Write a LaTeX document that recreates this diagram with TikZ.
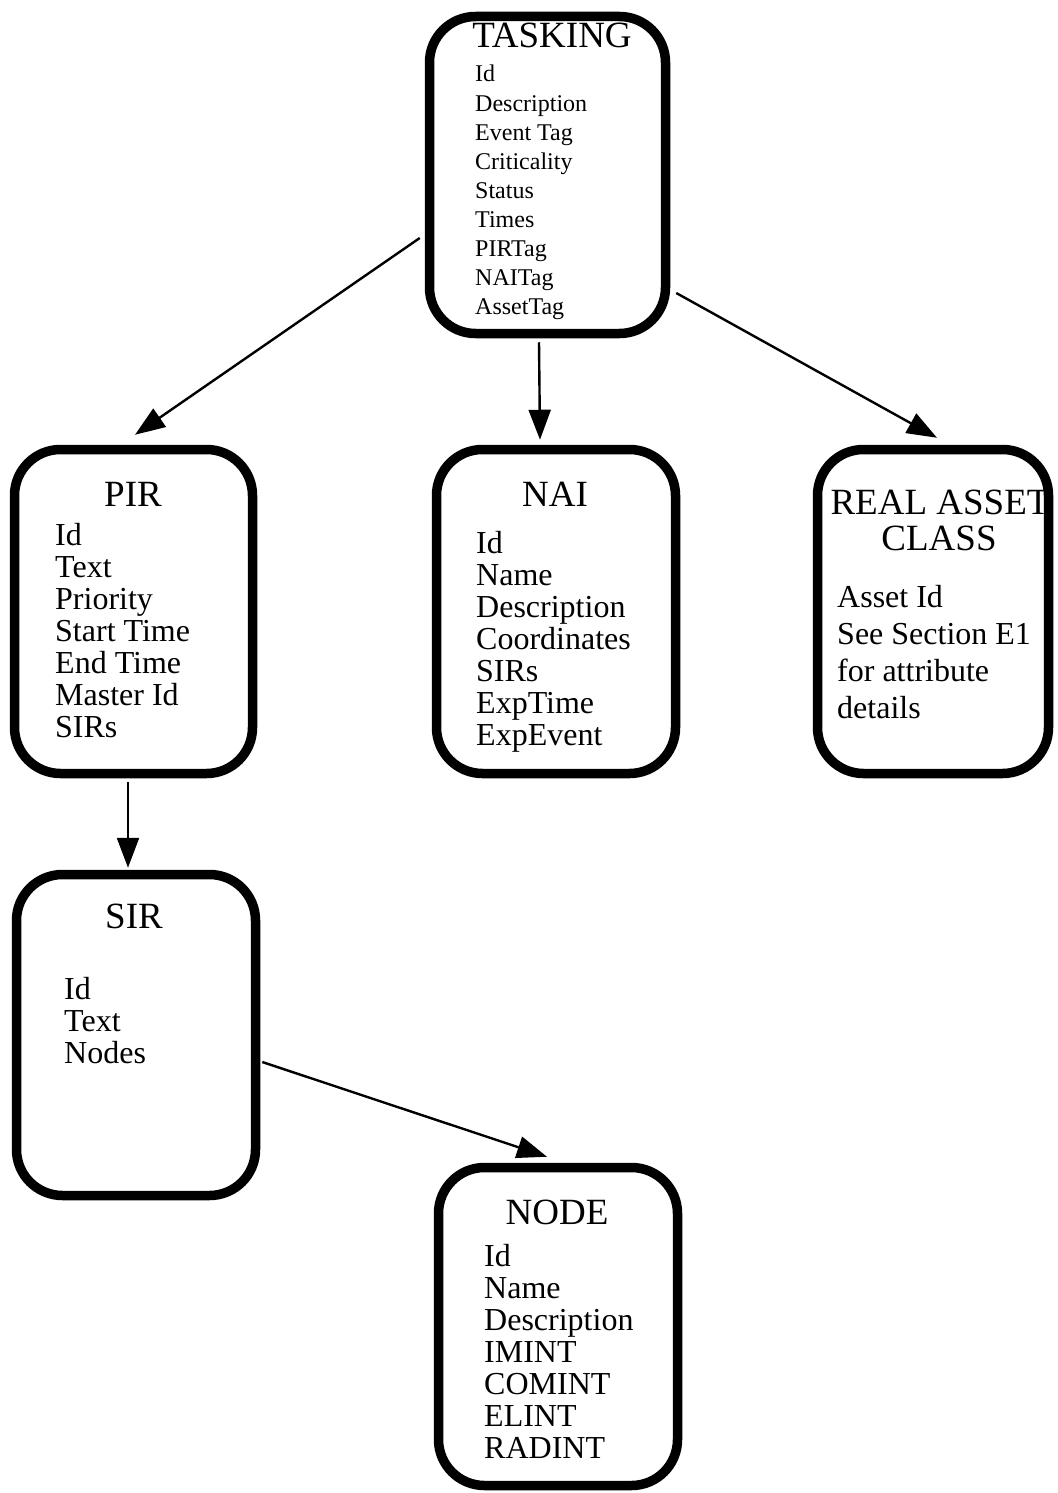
\documentclass[tikz,border=0pt]{standalone}
\usepackage{fontspec}
\setmainfont{Liberation Serif}
\usetikzlibrary{arrows.meta}

\begin{document}
\begin{tikzpicture}
[
    x=1pt, y=-1pt,
    entity/.style={draw, line width=9.5pt, rounded corners=46pt, inner sep=0pt},
    head/.style={font=\fontsize{37}{38}\selectfont, anchor=base, inner sep=0pt},
    attr/.style={font=\fontsize{32}{32}\selectfont, anchor=base west, inner sep=0pt},
    attrsmall/.style={font=\fontsize{24}{29}\selectfont, anchor=base west, inner sep=0pt},
    link/.style={line width=2.4pt, -{Triangle[length=30pt,width=22pt]}},
]
\useasboundingbox (0,0) rectangle (1057,1493);

% entities
\node [entity, minimum width=236pt, minimum height=317pt] (tasking) at (547.5,175) {};
\node [entity, minimum width=238pt, minimum height=324pt] (pir) at (133.5,611.5) {};
\node [entity, minimum width=239pt, minimum height=324pt] (nai) at (556,611.5) {};
\node [entity, minimum width=231pt, minimum height=324pt] (asset) at (933,611.5) {};
\node [entity, minimum width=239pt, minimum height=321pt] (sir) at (136,1035) {};
\node [entity, minimum width=239pt, minimum height=318pt] (intnode) at (558,1326.5) {};

% titles
\node [head] (tasking-t) at (552,48) {TASKING};
\node [head] (pir-t) at (133,506) {PIR};
\node [head] (nai-t) at (555,506) {NAI};
\node [head] (asset-t) at (940,514) {REAL ASSET};
\node [head] (asset-t2) at (939,550) {CLASS};
\node [head] (sir-t) at (134,928) {SIR};
\node [head] (intnode-t) at (557,1224) {NODE};

% attributes
\foreach \t [count=\i] in {Id,Description,Event Tag,Criticality,Status,Times,PIRTag,NAITag,AssetTag}
    \node [attrsmall] (tasking-\i) at (475,{52.9+29.1*\i}) {\t};
\foreach \t [count=\i] in {Id,Text,Priority,Start Time,End Time,Master Id,SIRs}
    \node [attr] (pir-\i) at (55,{513+32*\i}) {\t};
\foreach \t [count=\i] in {Id,Name,Description,Coordinates,SIRs,ExpTime,ExpEvent}
    \node [attr] (nai-\i) at (476,{521+32*\i}) {\t};
\foreach \t [count=\i] in {Asset Id,See Section E1,for attribute,details}
    \node [attr] (asset-\i) at (837,{570+37*\i}) {\t};
\foreach \t [count=\i] in {Id,Text,Nodes}
    \node [attr] (sir-\i) at (64,{967+32*\i}) {\t};
\foreach \t [count=\i] in {Id,Name,Description,IMINT,COMINT,ELINT,RADINT}
    \node [attr] (intnode-\i) at (484,{1234+32*\i}) {\t};

% links
\draw [link] ([shift={(-5pt,-63pt)}]tasking.west) -- ([shift={(1.5pt,10pt)}]pir.north);
\draw [link] ([shift={(-8.5pt,-4pt)}]tasking.south) -- ([shift={(-16pt,5pt)}]nai.north);
\draw [link] ([shift={(6pt,-118pt)}]tasking.east) -- ([shift={(4pt,7pt)}]asset.north);
\draw [link] ([shift={(-5.5pt,-4pt)}]pir.south) -- ([shift={(-8pt,2pt)}]sir.north);
\draw [link] ([shift={(2pt,-27pt)}]sir.east) -- ([shift={(-11pt,6pt)}]intnode.north);
\end{tikzpicture}
\end{document}
